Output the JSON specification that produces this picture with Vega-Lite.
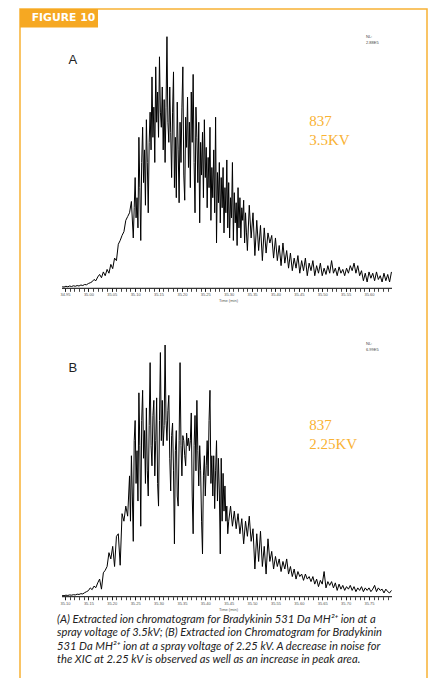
{
"$schema": "https://vega.github.io/schema/vega-lite/v6.json",
"width": 407, "height": 680,
"autosize": {"type": "none"},
"padding": {"left": 20, "top": 9, "right": 12, "bottom": 0},
"background": "white",
"config": {"view": {"stroke": "#F8B133", "strokeWidth": 1.5}, "axis": {"grid": false, "domain": false, "labelOverlap": false, "labelFlush": false, "tickColor": "#111", "tickWidth": 0.8, "tickSize": 3, "labelFont": "Liberation Sans", "titleFont": "Liberation Sans"}},
"datasets": {
"a": [
{"t":34.944,"v":0.6},{"t":34.948,"v":0.5},{"t":34.952,"v":0.8},{"t":34.956,"v":0.6},{"t":34.96,"v":0.9},{"t":34.964,"v":0.7},{"t":34.968,"v":1.0},{"t":34.972,"v":0.8},{"t":34.976,"v":1.1},{"t":34.98,"v":0.9},
{"t":34.984,"v":1.3},{"t":34.988,"v":1.1},{"t":34.992,"v":1.5},{"t":34.996,"v":1.4},{"t":35.0,"v":1.9},{"t":35.004,"v":2.2},{"t":35.008,"v":2.6},{"t":35.012,"v":3.5},{"t":35.016,"v":3.0},{"t":35.02,"v":4.5},
{"t":35.024,"v":5.5},{"t":35.028,"v":4.2},{"t":35.032,"v":6.5},{"t":35.036,"v":5.0},{"t":35.04,"v":7.5},{"t":35.044,"v":6.0},{"t":35.048,"v":9.5},{"t":35.052,"v":7.8},{"t":35.056,"v":12.0},{"t":35.06,"v":11.0},
{"t":35.064,"v":17.5},{"t":35.068,"v":19.0},{"t":35.072,"v":21.0},{"t":35.076,"v":22.5},{"t":35.08,"v":27.0},{"t":35.084,"v":28.5},{"t":35.088,"v":30.0},{"t":35.092,"v":34.5},{"t":35.096,"v":20},
{"t":35.098,"v":32},{"t":35.1,"v":44},{"t":35.102,"v":28},{"t":35.104,"v":36},{"t":35.106,"v":24},{"t":35.108,"v":60},{"t":35.11,"v":40},{"t":35.112,"v":19},{"t":35.114,"v":50},{"t":35.116,"v":64},
{"t":35.118,"v":42},{"t":35.12,"v":55},{"t":35.122,"v":33},{"t":35.124,"v":67},{"t":35.126,"v":50},{"t":35.128,"v":30},{"t":35.13,"v":58},{"t":35.132,"v":70},{"t":35.134,"v":55},{"t":35.136,"v":84},
{"t":35.138,"v":60},{"t":35.14,"v":72},{"t":35.142,"v":50},{"t":35.144,"v":88},{"t":35.146,"v":66},{"t":35.148,"v":78},{"t":35.15,"v":60},{"t":35.152,"v":92},{"t":35.154,"v":70},{"t":35.156,"v":64},
{"t":35.158,"v":80},{"t":35.16,"v":55},{"t":35.162,"v":75},{"t":35.164,"v":50},{"t":35.166,"v":72},{"t":35.168,"v":100},{"t":35.17,"v":66},{"t":35.172,"v":58},{"t":35.174,"v":80},{"t":35.176,"v":62},
{"t":35.178,"v":44},{"t":35.18,"v":70},{"t":35.182,"v":86},{"t":35.184,"v":40},{"t":35.186,"v":60},{"t":35.188,"v":36},{"t":35.19,"v":74},{"t":35.192,"v":55},{"t":35.194,"v":34},{"t":35.196,"v":66},
{"t":35.198,"v":50},{"t":35.2,"v":72},{"t":35.202,"v":88},{"t":35.204,"v":45},{"t":35.206,"v":35},{"t":35.208,"v":68},{"t":35.21,"v":56},{"t":35.212,"v":76},{"t":35.214,"v":48},{"t":35.216,"v":66},
{"t":35.218,"v":40},{"t":35.22,"v":78},{"t":35.222,"v":58},{"t":35.224,"v":85},{"t":35.226,"v":50},{"t":35.228,"v":30},{"t":35.23,"v":72},{"t":35.232,"v":60},{"t":35.234,"v":42},{"t":35.236,"v":66},
{"t":35.238,"v":26},{"t":35.24,"v":58},{"t":35.242,"v":45},{"t":35.244,"v":62},{"t":35.246,"v":36},{"t":35.248,"v":67},{"t":35.25,"v":44},{"t":35.252,"v":56},{"t":35.254,"v":32},{"t":35.256,"v":52},
{"t":35.258,"v":40},{"t":35.26,"v":64},{"t":35.262,"v":27},{"t":35.264,"v":48},{"t":35.266,"v":36},{"t":35.268,"v":55},{"t":35.27,"v":30},{"t":35.272,"v":68},{"t":35.274,"v":18},{"t":35.276,"v":46},
{"t":35.278,"v":34},{"t":35.28,"v":50},{"t":35.282,"v":26},{"t":35.284,"v":44},{"t":35.286,"v":32},{"t":35.288,"v":48},{"t":35.29,"v":22},{"t":35.292,"v":40},{"t":35.294,"v":30},{"t":35.296,"v":51},
{"t":35.298,"v":24},{"t":35.3,"v":42},{"t":35.302,"v":20},{"t":35.304,"v":36},{"t":35.306,"v":28},{"t":35.308,"v":50},{"t":35.31,"v":19},{"t":35.312,"v":38},{"t":35.314,"v":26},{"t":35.316,"v":34},
{"t":35.318,"v":17},{"t":35.32,"v":40},{"t":35.322,"v":24},{"t":35.324,"v":36},{"t":35.326,"v":20},{"t":35.328,"v":32},{"t":35.33,"v":27},{"t":35.332,"v":35},{"t":35.334,"v":18},{"t":35.336,"v":30},
{"t":35.338,"v":22},{"t":35.34,"v":15},
{"t":35.344,"v":33},{"t":35.348,"v":20},{"t":35.352,"v":30},{"t":35.356,"v":13},{"t":35.36,"v":27},{"t":35.364,"v":15},{"t":35.368,"v":25},{"t":35.372,"v":11},{"t":35.376,"v":24},{"t":35.38,"v":14},
{"t":35.384,"v":22},{"t":35.388,"v":18},{"t":35.392,"v":21},{"t":35.396,"v":12},{"t":35.4,"v":20},{"t":35.404,"v":11},{"t":35.408,"v":17},{"t":35.412,"v":9},{"t":35.416,"v":18},{"t":35.42,"v":10},
{"t":35.424,"v":15},{"t":35.428,"v":8},{"t":35.432,"v":14},{"t":35.436,"v":7},{"t":35.44,"v":12},{"t":35.444,"v":8},{"t":35.448,"v":13},{"t":35.452,"v":6},{"t":35.456,"v":11},{"t":35.46,"v":7},
{"t":35.464,"v":12},{"t":35.468,"v":5},{"t":35.472,"v":10},{"t":35.476,"v":7},{"t":35.48,"v":11},{"t":35.484,"v":5},{"t":35.488,"v":9},{"t":35.492,"v":6},{"t":35.496,"v":10},{"t":35.5,"v":5},
{"t":35.504,"v":8},{"t":35.508,"v":5.5},{"t":35.512,"v":9},{"t":35.516,"v":6},{"t":35.52,"v":11},{"t":35.524,"v":6},{"t":35.528,"v":8},{"t":35.532,"v":5},{"t":35.536,"v":8.5},{"t":35.54,"v":6},
{"t":35.544,"v":7.5},{"t":35.548,"v":5},{"t":35.552,"v":8},{"t":35.556,"v":6},{"t":35.56,"v":9},{"t":35.564,"v":7},{"t":35.568,"v":10},{"t":35.572,"v":6},{"t":35.576,"v":9},{"t":35.58,"v":5},
{"t":35.584,"v":7},{"t":35.588,"v":3},{"t":35.592,"v":6},{"t":35.596,"v":2.5},{"t":35.6,"v":6.5},{"t":35.604,"v":4},{"t":35.608,"v":6},{"t":35.612,"v":3},{"t":35.616,"v":6.5},{"t":35.62,"v":3.5},
{"t":35.624,"v":5},{"t":35.628,"v":2.5},{"t":35.632,"v":6},{"t":35.636,"v":3},{"t":35.64,"v":5.5},{"t":35.644,"v":2.5},{"t":35.648,"v":6.5}
],
"b": [
{"t":35.094,"v":0.5},{"t":35.098,"v":0.4},{"t":35.102,"v":0.6},{"t":35.106,"v":0.5},{"t":35.11,"v":0.7},{"t":35.114,"v":0.6},{"t":35.118,"v":0.8},{"t":35.122,"v":0.7},{"t":35.126,"v":1.0},{"t":35.13,"v":0.9},
{"t":35.134,"v":1.2},{"t":35.138,"v":1.1},{"t":35.142,"v":1.6},{"t":35.146,"v":2.0},{"t":35.15,"v":2.4},{"t":35.154,"v":3.5},{"t":35.158,"v":2.8},{"t":35.162,"v":4.2},{"t":35.166,"v":3.6},{"t":35.17,"v":5.5},
{"t":35.174,"v":7.0},{"t":35.178,"v":3.0},{"t":35.182,"v":9.5},{"t":35.186,"v":10.5},{"t":35.19,"v":12.0},{"t":35.194,"v":17.5},{"t":35.198,"v":15.0},{"t":35.202,"v":20.0},{"t":35.206,"v":12.0},{"t":35.21,"v":24.0},
{"t":35.214,"v":25.0},{"t":35.218,"v":12.5},{"t":35.222,"v":33},{"t":35.226,"v":30},{"t":35.23,"v":36},{"t":35.234,"v":32},
{"t":35.238,"v":48},{"t":35.24,"v":30},{"t":35.242,"v":56},{"t":35.244,"v":40},{"t":35.246,"v":22},{"t":35.248,"v":62},{"t":35.25,"v":70},{"t":35.252,"v":45},{"t":35.254,"v":58},{"t":35.256,"v":38},
{"t":35.258,"v":81},{"t":35.26,"v":60},{"t":35.262,"v":28},{"t":35.264,"v":70},{"t":35.266,"v":82},{"t":35.268,"v":55},{"t":35.27,"v":66},{"t":35.272,"v":45},{"t":35.274,"v":75},{"t":35.276,"v":50},
{"t":35.278,"v":40},{"t":35.28,"v":68},{"t":35.282,"v":93},{"t":35.284,"v":60},{"t":35.286,"v":52},{"t":35.288,"v":72},{"t":35.29,"v":78},{"t":35.292,"v":48},{"t":35.294,"v":62},{"t":35.296,"v":79},
{"t":35.298,"v":45},{"t":35.3,"v":36},{"t":35.302,"v":70},{"t":35.304,"v":97},{"t":35.306,"v":62},{"t":35.308,"v":78},{"t":35.31,"v":60},{"t":35.312,"v":68},{"t":35.314,"v":100},{"t":35.316,"v":70},
{"t":35.318,"v":62},{"t":35.32,"v":74},{"t":35.322,"v":80},{"t":35.324,"v":55},{"t":35.326,"v":42},{"t":35.328,"v":64},{"t":35.33,"v":69},{"t":35.332,"v":50},{"t":35.334,"v":21},{"t":35.336,"v":58},
{"t":35.338,"v":66},{"t":35.34,"v":40},{"t":35.342,"v":36},{"t":35.344,"v":62},{"t":35.346,"v":93},{"t":35.348,"v":60},{"t":35.35,"v":48},{"t":35.352,"v":64},{"t":35.354,"v":62},{"t":35.356,"v":56},
{"t":35.358,"v":52},{"t":35.36,"v":65},{"t":35.362,"v":60},{"t":35.364,"v":63},{"t":35.366,"v":58},{"t":35.368,"v":62},{"t":35.37,"v":73},{"t":35.372,"v":40},{"t":35.374,"v":25},{"t":35.376,"v":60},
{"t":35.378,"v":72},{"t":35.38,"v":50},{"t":35.382,"v":78},{"t":35.384,"v":58},{"t":35.386,"v":44},{"t":35.388,"v":60},{"t":35.39,"v":50},{"t":35.392,"v":30},{"t":35.394,"v":17},{"t":35.396,"v":48},
{"t":35.398,"v":56},{"t":35.4,"v":40},{"t":35.402,"v":52},{"t":35.404,"v":62},{"t":35.406,"v":48},{"t":35.408,"v":70},{"t":35.41,"v":82},{"t":35.412,"v":45},{"t":35.414,"v":56},{"t":35.416,"v":40},
{"t":35.418,"v":56},{"t":35.42,"v":35},{"t":35.422,"v":50},{"t":35.424,"v":62},{"t":35.426,"v":38},{"t":35.428,"v":55},{"t":35.43,"v":42},{"t":35.432,"v":17},{"t":35.434,"v":55},{"t":35.436,"v":30},
{"t":35.438,"v":49},{"t":35.44,"v":34},{"t":35.442,"v":44},{"t":35.444,"v":30},{"t":35.446,"v":36},{"t":35.448,"v":25},{"t":35.45,"v":30},
{"t":35.454,"v":36},{"t":35.458,"v":28},{"t":35.462,"v":34},{"t":35.466,"v":27},{"t":35.47,"v":33},{"t":35.474,"v":25},{"t":35.478,"v":31},{"t":35.482,"v":21},{"t":35.486,"v":30},{"t":35.49,"v":24},
{"t":35.494,"v":32},{"t":35.498,"v":22},{"t":35.502,"v":27},{"t":35.506,"v":11},{"t":35.51,"v":25},{"t":35.514,"v":14},{"t":35.518,"v":26},{"t":35.522,"v":12},{"t":35.526,"v":20},{"t":35.53,"v":9},
{"t":35.534,"v":23},{"t":35.538,"v":14},{"t":35.542,"v":18},{"t":35.546,"v":11},{"t":35.55,"v":16},{"t":35.554,"v":12},{"t":35.558,"v":15},{"t":35.562,"v":10},{"t":35.566,"v":14},{"t":35.57,"v":11},
{"t":35.574,"v":15},{"t":35.578,"v":9},{"t":35.582,"v":12},{"t":35.586,"v":8},{"t":35.59,"v":11},{"t":35.594,"v":7},{"t":35.598,"v":10},{"t":35.602,"v":8},{"t":35.606,"v":9},{"t":35.61,"v":6.5},
{"t":35.614,"v":9},{"t":35.618,"v":7},{"t":35.622,"v":8},{"t":35.626,"v":6},{"t":35.63,"v":8},{"t":35.634,"v":5},{"t":35.638,"v":7},{"t":35.642,"v":4},{"t":35.646,"v":6.5},{"t":35.65,"v":5},
{"t":35.654,"v":10},{"t":35.658,"v":3.5},{"t":35.662,"v":6},{"t":35.666,"v":4.5},{"t":35.67,"v":6},{"t":35.674,"v":3.5},{"t":35.678,"v":5.5},{"t":35.682,"v":2.5},{"t":35.686,"v":5},{"t":35.69,"v":3},
{"t":35.694,"v":4.5},{"t":35.698,"v":2.5},{"t":35.702,"v":4},{"t":35.706,"v":3},{"t":35.71,"v":4.5},{"t":35.714,"v":2.5},{"t":35.718,"v":4},{"t":35.722,"v":2},{"t":35.726,"v":3.5},{"t":35.73,"v":2.5},
{"t":35.734,"v":4},{"t":35.738,"v":2},{"t":35.742,"v":3.5},{"t":35.746,"v":2.5},{"t":35.75,"v":3.5},{"t":35.754,"v":2},{"t":35.758,"v":3},{"t":35.762,"v":4.5},{"t":35.766,"v":2},{"t":35.77,"v":3.5},
{"t":35.774,"v":2.5},{"t":35.778,"v":3},{"t":35.782,"v":1.5},{"t":35.786,"v":3},{"t":35.79,"v":2},{"t":35.794,"v":1.5},{"t":35.798,"v":2.5}
]
},
"layer": [
{
"layer": [
{"data": {"name": "a"}, "mark": {"type": "line", "color": "#000", "strokeWidth": 1},
 "encoding": {
  "x": {"field": "t", "type": "quantitative", "scale": {"domain": [34.8538, 35.724], "nice": false, "zero": false},
   "axis": {"orient": "bottom", "values": [34.95,35.0,35.05,35.1,35.15,35.2,35.25,35.3,35.35,35.4,35.45,35.5,35.55,35.6], "format": ".2f", "offset": -400.7, "labelFontSize": 4, "labelColor": "#555", "labelPadding": 1.5, "title": "Time (min)", "titleFontSize": 4, "titleFontWeight": "normal", "titleColor": "#555", "titleX": 208, "titlePadding": 2}},
  "y": {"field": "v", "type": "quantitative", "scale": {"domain": [-159.26, 111.0], "nice": false, "zero": false}, "axis": null}}},
{"data": {"values": [{"t1": 34.9436, "t2": 35.6492, "v": 0}]}, "mark": {"type": "rule", "color": "#000", "strokeWidth": 1},
 "encoding": {
  "x": {"field": "t1", "type": "quantitative", "scale": {"domain": [34.8538, 35.724], "nice": false, "zero": false},
   "axis": {"orient": "bottom", "values": [34.95,34.96,34.97,34.98,34.99,35.0,35.01,35.02,35.03,35.04,35.05,35.06,35.07,35.08,35.09,35.1,35.11,35.12,35.13,35.14,35.15,35.16,35.17,35.18,35.19,35.2,35.21,35.22,35.23,35.24,35.25,35.26,35.27,35.28,35.29,35.3,35.31,35.32,35.33,35.34,35.35,35.36,35.37,35.38,35.39,35.4,35.41,35.42,35.43,35.44,35.45,35.46,35.47,35.48,35.49,35.5,35.51,35.52,35.53,35.54,35.55,35.56,35.57,35.58,35.59,35.6,35.61,35.62,35.63,35.64], "labels": false, "title": null, "offset": -400.7}},
  "x2": {"field": "t2"},
  "y": {"field": "v", "type": "quantitative", "scale": {"domain": [-159.26, 111.0], "nice": false, "zero": false}, "axis": null}}},
{"data": {"values": [{"t1": 34.8538, "t2": 35.0206, "v1": 103.6, "v2": 111.0}]}, "mark": {"type": "rect", "color": "#F6A822"},
 "encoding": {
  "x": {"field": "t1", "type": "quantitative", "scale": {"domain": [34.8538, 35.724], "nice": false, "zero": false}, "axis": null},
  "x2": {"field": "t2"},
  "y": {"field": "v1", "type": "quantitative", "scale": {"domain": [-159.26, 111.0], "nice": false, "zero": false}, "axis": null},
  "y2": {"field": "v2"}}},
{"data": {"values": [{"t": 34.8788, "v": 107.3, "label": "FIGURE 10"}]}, "mark": {"type": "text", "align": "left", "baseline": "middle", "font": "DejaVu Sans", "fontWeight": "bold", "fontSize": 10.8, "color": "white"},
 "encoding": {
  "x": {"field": "t", "type": "quantitative", "scale": {"domain": [34.8538, 35.724], "nice": false, "zero": false}, "axis": null},
  "y": {"field": "v", "type": "quantitative", "scale": {"domain": [-159.26, 111.0], "nice": false, "zero": false}, "axis": null},
  "text": {"field": "label"}}},
{"data": {"values": [{"t": 34.967, "v": 90.9, "label": "A"}]}, "mark": {"type": "text", "align": "center", "baseline": "middle", "font": "Liberation Sans", "fontSize": 13, "color": "#222"},
 "encoding": {
  "x": {"field": "t", "type": "quantitative", "scale": {"domain": [34.8538, 35.724], "nice": false, "zero": false}, "axis": null},
  "y": {"field": "v", "type": "quantitative", "scale": {"domain": [-159.26, 111.0], "nice": false, "zero": false}, "axis": null},
  "text": {"field": "label"}}},
{"data": {"values": [{"t": 35.4723, "v": 66.6, "label": "837"}, {"t": 35.4723, "v": 58.9, "label": "3.5KV"}]}, "mark": {"type": "text", "align": "left", "baseline": "middle", "font": "Liberation Serif", "fontSize": 15, "color": "#F9B233"},
 "encoding": {
  "x": {"field": "t", "type": "quantitative", "scale": {"domain": [34.8538, 35.724], "nice": false, "zero": false}, "axis": null},
  "y": {"field": "v", "type": "quantitative", "scale": {"domain": [-159.26, 111.0], "nice": false, "zero": false}, "axis": null},
  "text": {"field": "label"}}},
{"data": {"values": [{"t": 35.5936, "v": 99.9, "label": "NL:"}, {"t": 35.5936, "v": 97.5, "label": "2.88E5"}]}, "mark": {"type": "text", "align": "left", "baseline": "middle", "font": "Liberation Sans", "fontSize": 4, "color": "#444"},
 "encoding": {
  "x": {"field": "t", "type": "quantitative", "scale": {"domain": [34.8538, 35.724], "nice": false, "zero": false}, "axis": null},
  "y": {"field": "v", "type": "quantitative", "scale": {"domain": [-159.26, 111.0], "nice": false, "zero": false}, "axis": null},
  "text": {"field": "label"}}}
],
"resolve": {"axis": {"x": "independent"}}
},
{
"layer": [
{"data": {"name": "b"}, "mark": {"type": "line", "color": "#000", "strokeWidth": 1},
 "encoding": {
  "x": {"field": "t", "type": "quantitative", "scale": {"domain": [35.0038, 35.874], "nice": false, "zero": false},
   "axis": {"orient": "bottom", "values": [35.1,35.15,35.2,35.25,35.3,35.35,35.4,35.45,35.5,35.55,35.6,35.65,35.7,35.75], "format": ".2f", "offset": -92.3, "labelFontSize": 4, "labelColor": "#555", "labelPadding": 1.5, "title": "Time (min)", "titleFontSize": 4, "titleFontWeight": "normal", "titleColor": "#555", "titleX": 208, "titlePadding": 2}},
  "y": {"field": "v", "type": "quantitative", "scale": {"domain": [-36.67, 233.5], "nice": false, "zero": false}, "axis": null}}},
{"data": {"values": [{"t1": 35.0936, "t2": 35.7992, "v": 0}]}, "mark": {"type": "rule", "color": "#000", "strokeWidth": 1},
 "encoding": {
  "x": {"field": "t1", "type": "quantitative", "scale": {"domain": [35.0038, 35.874], "nice": false, "zero": false},
   "axis": {"orient": "bottom", "values": [35.1,35.11,35.12,35.13,35.14,35.15,35.16,35.17,35.18,35.19,35.2,35.21,35.22,35.23,35.24,35.25,35.26,35.27,35.28,35.29,35.3,35.31,35.32,35.33,35.34,35.35,35.36,35.37,35.38,35.39,35.4,35.41,35.42,35.43,35.44,35.45,35.46,35.47,35.48,35.49,35.5,35.51,35.52,35.53,35.54,35.55,35.56,35.57,35.58,35.59,35.6,35.61,35.62,35.63,35.64,35.65,35.66,35.67,35.68,35.69,35.7,35.71,35.72,35.73,35.74,35.75,35.76,35.77,35.78,35.79], "labels": false, "title": null, "offset": -92.3}},
  "x2": {"field": "t2"},
  "y": {"field": "v", "type": "quantitative", "scale": {"domain": [-36.67, 233.5], "nice": false, "zero": false}, "axis": null}}},
{"data": {"values": [{"t": 35.117, "v": 90.9, "label": "B"}]}, "mark": {"type": "text", "align": "center", "baseline": "middle", "font": "Liberation Sans", "fontSize": 13, "color": "#222"},
 "encoding": {
  "x": {"field": "t", "type": "quantitative", "scale": {"domain": [35.0038, 35.874], "nice": false, "zero": false}, "axis": null},
  "y": {"field": "v", "type": "quantitative", "scale": {"domain": [-36.67, 233.5], "nice": false, "zero": false}, "axis": null},
  "text": {"field": "label"}}},
{"data": {"values": [{"t": 35.6223, "v": 68.2, "label": "837"}, {"t": 35.6223, "v": 60.7, "label": "2.25KV"}]}, "mark": {"type": "text", "align": "left", "baseline": "middle", "font": "Liberation Serif", "fontSize": 15, "color": "#F9B233"},
 "encoding": {
  "x": {"field": "t", "type": "quantitative", "scale": {"domain": [35.0038, 35.874], "nice": false, "zero": false}, "axis": null},
  "y": {"field": "v", "type": "quantitative", "scale": {"domain": [-36.67, 233.5], "nice": false, "zero": false}, "axis": null},
  "text": {"field": "label"}}},
{"data": {"values": [{"t": 35.7436, "v": 100.4, "label": "NL:"}, {"t": 35.7436, "v": 98.0, "label": "6.99E5"}]}, "mark": {"type": "text", "align": "left", "baseline": "middle", "font": "Liberation Sans", "fontSize": 4, "color": "#444"},
 "encoding": {
  "x": {"field": "t", "type": "quantitative", "scale": {"domain": [35.0038, 35.874], "nice": false, "zero": false}, "axis": null},
  "y": {"field": "v", "type": "quantitative", "scale": {"domain": [-36.67, 233.5], "nice": false, "zero": false}, "axis": null},
  "text": {"field": "label"}}},
{"data": {"values": [
  {"t": 35.0829, "v": -9.4, "label": "(A) Extracted ion chromatogram for Bradykinin 531 Da MH²⁺ ion at a"},
  {"t": 35.0829, "v": -14.6, "label": "spray voltage of 3.5kV; (B) Extracted ion Chromatogram for Bradykinin"},
  {"t": 35.0829, "v": -19.8, "label": "531 Da MH²⁺ ion at a spray voltage of 2.25 kV. A decrease in noise for"},
  {"t": 35.0829, "v": -25.0, "label": "the XIC at 2.25 kV is observed as well as an increase in peak area."}]},
 "mark": {"type": "text", "align": "left", "baseline": "middle", "font": "Lato", "fontStyle": "italic", "fontSize": 11.2, "color": "#222"},
 "encoding": {
  "x": {"field": "t", "type": "quantitative", "scale": {"domain": [35.0038, 35.874], "nice": false, "zero": false}, "axis": null},
  "y": {"field": "v", "type": "quantitative", "scale": {"domain": [-36.67, 233.5], "nice": false, "zero": false}, "axis": null},
  "text": {"field": "label"}}}
],
"resolve": {"axis": {"x": "independent"}}
}
],
"resolve": {"scale": {"x": "independent", "y": "independent"}}
}
